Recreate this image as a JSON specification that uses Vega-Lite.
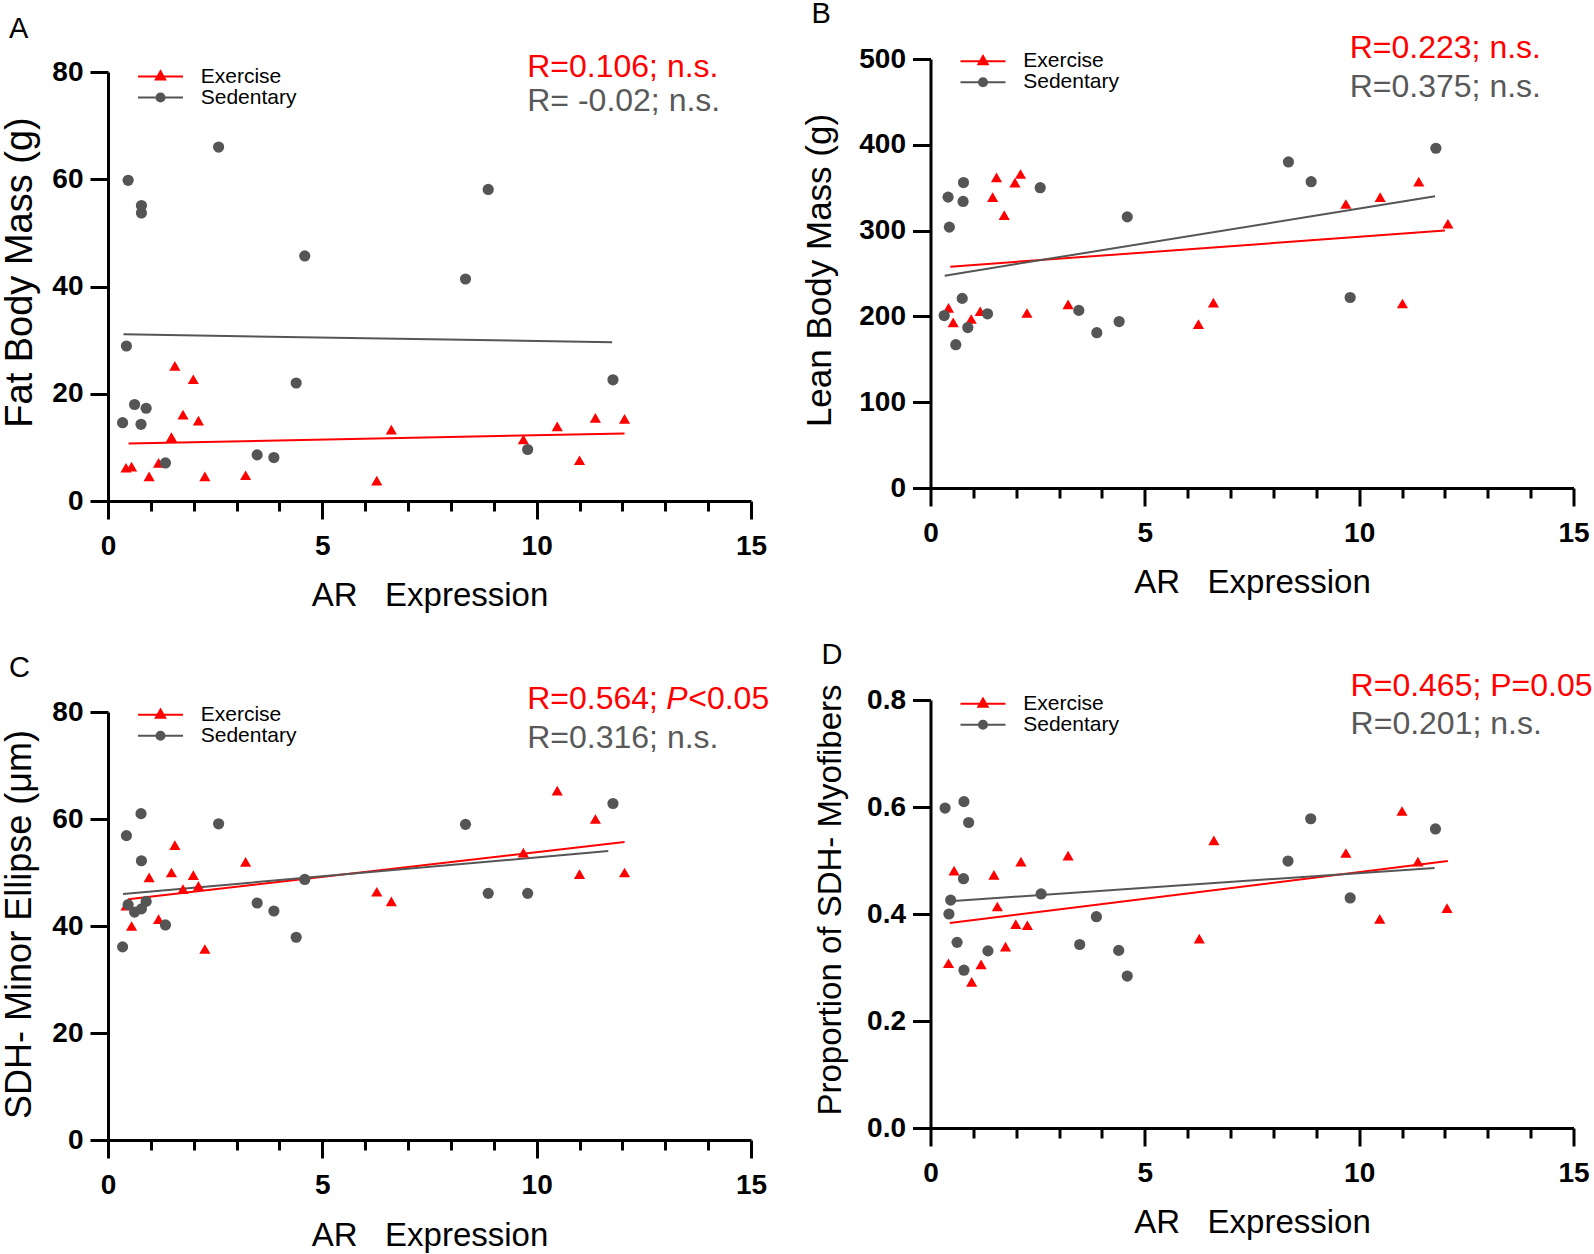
{
  "$schema": "https://vega.github.io/schema/vega-lite/v6.json",
  "background": "white",
  "padding": {"left": 0, "top": 0, "right": 4, "bottom": 4},
  "config": {
    "font": "Liberation Sans",
    "view": {"stroke": null},
    "axis": {"grid": false, "domainColor": "#000000", "domainWidth": 3, "tickColor": "#000000", "tickWidth": 3, "tickSize": 18, "labelFontSize": 28, "labelFontWeight": "bold", "labelColor": "#000000", "labelPadding": 7, "labelFlush": false, "labelOverlap": false, "titleFontSize": 35, "titleFontWeight": "normal", "titleColor": "#000000", "titleBaseline": "middle"},
    "axisX": {"labelPadding": 13, "titleFontSize": 33, "titleBaseline": "alphabetic"},
    "legend": {"title": null, "orient": "none", "symbolSize": 324, "symbolOpacity": 1, "symbolStrokeWidth": 2, "labelFontSize": 21, "labelColor": "#000000", "labelOffset": 29.7, "padding": 0, "rowPadding": -2.7},
    "title": {"fontSize": 29, "fontWeight": "normal", "color": "#000000", "anchor": "start", "frame": "group", "offset": 0, "baseline": "alphabetic"}
  },
  "datasets": {
    "A_pts": [
      {"group": "Exercise", "x": 1.56, "y": 25.2}, {"group": "Exercise", "x": 1.99, "y": 22.7}, {"group": "Exercise", "x": 1.75, "y": 16.1}, {"group": "Exercise", "x": 2.11, "y": 15.0}, {"group": "Exercise", "x": 1.48, "y": 11.9}, {"group": "Exercise", "x": 0.42, "y": 6.2}, {"group": "Exercise", "x": 0.55, "y": 6.4}, {"group": "Exercise", "x": 0.96, "y": 4.6}, {"group": "Exercise", "x": 1.18, "y": 7.1}, {"group": "Exercise", "x": 2.26, "y": 4.6}, {"group": "Exercise", "x": 3.21, "y": 4.8}, {"group": "Exercise", "x": 6.27, "y": 3.8}, {"group": "Exercise", "x": 6.61, "y": 13.3}, {"group": "Exercise", "x": 9.69, "y": 11.5}, {"group": "Exercise", "x": 10.48, "y": 13.9}, {"group": "Exercise", "x": 11.0, "y": 7.6}, {"group": "Exercise", "x": 11.37, "y": 15.5}, {"group": "Exercise", "x": 12.05, "y": 15.3},
      {"group": "Sedentary", "x": 0.47, "y": 59.8}, {"group": "Sedentary", "x": 2.58, "y": 66.0}, {"group": "Sedentary", "x": 0.78, "y": 55.1}, {"group": "Sedentary", "x": 0.78, "y": 53.7}, {"group": "Sedentary", "x": 8.87, "y": 58.1}, {"group": "Sedentary", "x": 4.59, "y": 45.7}, {"group": "Sedentary", "x": 8.34, "y": 41.4}, {"group": "Sedentary", "x": 0.43, "y": 28.9}, {"group": "Sedentary", "x": 4.39, "y": 22.0}, {"group": "Sedentary", "x": 11.78, "y": 22.6}, {"group": "Sedentary", "x": 0.62, "y": 18.0}, {"group": "Sedentary", "x": 0.89, "y": 17.3}, {"group": "Sedentary", "x": 0.34, "y": 14.6}, {"group": "Sedentary", "x": 0.77, "y": 14.3}, {"group": "Sedentary", "x": 1.34, "y": 7.1}, {"group": "Sedentary", "x": 3.48, "y": 8.6}, {"group": "Sedentary", "x": 3.87, "y": 8.1}, {"group": "Sedentary", "x": 9.79, "y": 9.6}
    ],
    "A_fit": [
      {"group": "Exercise", "x": 0.48, "y": 10.7}, {"group": "Exercise", "x": 12.05, "y": 12.6},
      {"group": "Sedentary", "x": 0.36, "y": 31.1}, {"group": "Sedentary", "x": 11.76, "y": 29.6}
    ],
    "B_pts": [
      {"group": "Exercise", "x": 1.54, "y": 362}, {"group": "Exercise", "x": 2.10, "y": 366}, {"group": "Exercise", "x": 1.97, "y": 356}, {"group": "Exercise", "x": 1.45, "y": 339}, {"group": "Exercise", "x": 1.72, "y": 318}, {"group": "Exercise", "x": 0.42, "y": 210}, {"group": "Exercise", "x": 0.53, "y": 193}, {"group": "Exercise", "x": 0.95, "y": 197}, {"group": "Exercise", "x": 1.16, "y": 206}, {"group": "Exercise", "x": 2.25, "y": 204}, {"group": "Exercise", "x": 3.21, "y": 214}, {"group": "Exercise", "x": 6.25, "y": 191}, {"group": "Exercise", "x": 6.60, "y": 216}, {"group": "Exercise", "x": 9.69, "y": 331}, {"group": "Exercise", "x": 10.49, "y": 339}, {"group": "Exercise", "x": 11.39, "y": 357}, {"group": "Exercise", "x": 11.01, "y": 215}, {"group": "Exercise", "x": 12.07, "y": 308},
      {"group": "Sedentary", "x": 11.79, "y": 396}, {"group": "Sedentary", "x": 8.35, "y": 380}, {"group": "Sedentary", "x": 8.88, "y": 357}, {"group": "Sedentary", "x": 0.77, "y": 356}, {"group": "Sedentary", "x": 0.41, "y": 339}, {"group": "Sedentary", "x": 0.76, "y": 334}, {"group": "Sedentary", "x": 2.56, "y": 350}, {"group": "Sedentary", "x": 0.44, "y": 304}, {"group": "Sedentary", "x": 4.59, "y": 316}, {"group": "Sedentary", "x": 0.74, "y": 221}, {"group": "Sedentary", "x": 0.32, "y": 201}, {"group": "Sedentary", "x": 1.33, "y": 203}, {"group": "Sedentary", "x": 0.87, "y": 187}, {"group": "Sedentary", "x": 0.59, "y": 167}, {"group": "Sedentary", "x": 3.46, "y": 207}, {"group": "Sedentary", "x": 3.88, "y": 181}, {"group": "Sedentary", "x": 4.40, "y": 194}, {"group": "Sedentary", "x": 9.79, "y": 222}
    ],
    "B_fit": [
      {"group": "Exercise", "x": 0.46, "y": 258}, {"group": "Exercise", "x": 12.0, "y": 300},
      {"group": "Sedentary", "x": 0.33, "y": 247.5}, {"group": "Sedentary", "x": 11.77, "y": 340}
    ],
    "C_pts": [
      {"group": "Exercise", "x": 10.48, "y": 65.3}, {"group": "Exercise", "x": 11.37, "y": 60.0}, {"group": "Exercise", "x": 9.69, "y": 53.7}, {"group": "Exercise", "x": 11.0, "y": 49.7}, {"group": "Exercise", "x": 12.05, "y": 50.0}, {"group": "Exercise", "x": 1.56, "y": 55.1}, {"group": "Exercise", "x": 1.48, "y": 50.0}, {"group": "Exercise", "x": 0.96, "y": 49.1}, {"group": "Exercise", "x": 1.99, "y": 49.5}, {"group": "Exercise", "x": 1.75, "y": 46.9}, {"group": "Exercise", "x": 2.11, "y": 47.5}, {"group": "Exercise", "x": 3.21, "y": 52.0}, {"group": "Exercise", "x": 0.42, "y": 43.8}, {"group": "Exercise", "x": 0.55, "y": 40.0}, {"group": "Exercise", "x": 1.18, "y": 41.3}, {"group": "Exercise", "x": 2.26, "y": 35.7}, {"group": "Exercise", "x": 6.27, "y": 46.4}, {"group": "Exercise", "x": 6.61, "y": 44.6},
      {"group": "Sedentary", "x": 0.34, "y": 36.1}, {"group": "Sedentary", "x": 0.43, "y": 56.9}, {"group": "Sedentary", "x": 0.77, "y": 61.0}, {"group": "Sedentary", "x": 0.78, "y": 52.2}, {"group": "Sedentary", "x": 0.47, "y": 44.0}, {"group": "Sedentary", "x": 0.62, "y": 42.6}, {"group": "Sedentary", "x": 0.78, "y": 43.2}, {"group": "Sedentary", "x": 0.89, "y": 44.6}, {"group": "Sedentary", "x": 1.34, "y": 40.2}, {"group": "Sedentary", "x": 2.58, "y": 59.1}, {"group": "Sedentary", "x": 3.48, "y": 44.3}, {"group": "Sedentary", "x": 3.87, "y": 42.8}, {"group": "Sedentary", "x": 4.39, "y": 37.9}, {"group": "Sedentary", "x": 4.59, "y": 48.7}, {"group": "Sedentary", "x": 8.34, "y": 59.0}, {"group": "Sedentary", "x": 8.87, "y": 46.1}, {"group": "Sedentary", "x": 9.79, "y": 46.1}, {"group": "Sedentary", "x": 11.78, "y": 62.9}
    ],
    "C_fit": [
      {"group": "Exercise", "x": 0.47, "y": 45.0}, {"group": "Exercise", "x": 12.05, "y": 55.7},
      {"group": "Sedentary", "x": 0.35, "y": 46.0}, {"group": "Sedentary", "x": 11.67, "y": 54.0}
    ],
    "D_pts": [
      {"group": "Exercise", "x": 11.0, "y": 0.5925}, {"group": "Exercise", "x": 6.61, "y": 0.5375}, {"group": "Exercise", "x": 9.69, "y": 0.514}, {"group": "Exercise", "x": 11.37, "y": 0.498}, {"group": "Exercise", "x": 12.05, "y": 0.411}, {"group": "Exercise", "x": 10.48, "y": 0.391}, {"group": "Exercise", "x": 6.27, "y": 0.354}, {"group": "Exercise", "x": 3.21, "y": 0.509}, {"group": "Exercise", "x": 2.11, "y": 0.498}, {"group": "Exercise", "x": 0.55, "y": 0.481}, {"group": "Exercise", "x": 1.48, "y": 0.473}, {"group": "Exercise", "x": 1.56, "y": 0.414}, {"group": "Exercise", "x": 1.99, "y": 0.381}, {"group": "Exercise", "x": 2.26, "y": 0.379}, {"group": "Exercise", "x": 1.75, "y": 0.339}, {"group": "Exercise", "x": 0.42, "y": 0.308}, {"group": "Exercise", "x": 1.18, "y": 0.306}, {"group": "Exercise", "x": 0.96, "y": 0.273},
      {"group": "Sedentary", "x": 0.34, "y": 0.598}, {"group": "Sedentary", "x": 0.78, "y": 0.610}, {"group": "Sedentary", "x": 0.89, "y": 0.571}, {"group": "Sedentary", "x": 0.77, "y": 0.466}, {"group": "Sedentary", "x": 0.47, "y": 0.426}, {"group": "Sedentary", "x": 0.43, "y": 0.400}, {"group": "Sedentary", "x": 0.62, "y": 0.347}, {"group": "Sedentary", "x": 0.78, "y": 0.295}, {"group": "Sedentary", "x": 1.34, "y": 0.331}, {"group": "Sedentary", "x": 2.58, "y": 0.4375}, {"group": "Sedentary", "x": 3.48, "y": 0.343}, {"group": "Sedentary", "x": 3.87, "y": 0.395}, {"group": "Sedentary", "x": 4.39, "y": 0.332}, {"group": "Sedentary", "x": 4.59, "y": 0.284}, {"group": "Sedentary", "x": 8.34, "y": 0.499}, {"group": "Sedentary", "x": 8.87, "y": 0.578}, {"group": "Sedentary", "x": 9.79, "y": 0.430}, {"group": "Sedentary", "x": 11.78, "y": 0.559}
    ],
    "D_fit": [
      {"group": "Exercise", "x": 0.45, "y": 0.383}, {"group": "Exercise", "x": 12.07, "y": 0.499},
      {"group": "Sedentary", "x": 0.45, "y": 0.424}, {"group": "Sedentary", "x": 11.76, "y": 0.486}
    ]
  },
  "columns": 2,
  "spacing": {"row": 199, "column": 179.5},
  "bounds": "flush",
  "resolve": {"scale": {"color": "independent", "shape": "independent", "fill": "independent", "stroke": "independent"}},
  "concat": [
    {
      "title": {"text": "A", "dx": -99, "dy": -3},
      "width": 643, "height": 442,
      "resolve": {"scale": {"color": "independent", "shape": "independent", "fill": "independent", "stroke": "independent"}, "axis": {"x": "independent"}},
      "layer": [
        {"data": {"name": "A_fit"}, "mark": {"type": "line", "strokeWidth": 2},
         "encoding": {
           "x": {"field": "x", "type": "quantitative", "scale": {"domain": [0, 15], "nice": false, "zero": false}, "axis": {"orient": "bottom", "values": [1,2,3,4,6,7,8,9,11,12,13,14], "labels": false, "domain": false, "tickSize": 10, "title": null}},
           "y": {"field": "y", "type": "quantitative", "scale": {"domain": [0, 80], "nice": false, "range": [442, 13]}},
           "color": {"field": "group", "type": "nominal", "scale": {"domain": ["Exercise", "Sedentary"], "range": ["#ff0000", "#555555"]}, "legend": null}
         }},
        {"data": {"name": "A_pts"}, "mark": {"type": "point", "filled": true, "opacity": 1, "size": 125},
         "encoding": {
           "x": {"field": "x", "type": "quantitative", "scale": {"domain": [0, 15], "nice": false, "zero": false}, "axis": {"orient": "bottom", "values": [0, 5, 10, 15], "title": "AR\u00a0\u00a0\u00a0Expression", "titleY": 104}},
           "y": {"field": "y", "type": "quantitative", "scale": {"domain": [0, 80], "nice": false, "range": [442, 13]}, "axis": {"values": [0, 20, 40, 60, 80], "title": "Fat Body Mass (g)", "titleX": -88, "titleY": 213, "titleFontSize": 38}},
           "color": {"field": "group", "type": "nominal", "scale": {"domain": ["Exercise", "Sedentary"], "range": ["#ff0000", "#555555"]}, "legend": null},
           "shape": {"field": "group", "type": "nominal", "scale": {"domain": ["Exercise", "Sedentary"], "range": ["triangle-up", "circle"]}, "legend": null}
         }},
        {"data": {"name": "A_fit"}, "mark": {"type": "point", "filled": true, "opacity": 0, "size": 324, "strokeWidth": 2},
         "encoding": {
           "x": {"field": "x", "type": "quantitative", "axis": null},
           "y": {"field": "y", "type": "quantitative"},
           "fill": {"field": "group", "type": "nominal", "scale": {"domain": ["Exercise", "Sedentary"], "range": ["#ff0000", "#555555"]}, "legend": {"legendX": 42, "legendY": 7}},
           "stroke": {"field": "group", "type": "nominal", "scale": {"domain": ["Exercise", "Sedentary"], "range": ["#ff0000", "#555555"]}, "legend": {"legendX": 42, "legendY": 7}},
           "shape": {"field": "group", "type": "nominal", "scale": {"domain": ["Exercise", "Sedentary"], "range": ["M-2.5,0H2.5M0,-0.58L0.52,0.33L-0.52,0.33Z", "M-2.5,0H2.5M0.45,0A0.45,0.45,0,1,1,-0.45,0A0.45,0.45,0,1,1,0.45,0Z"]}, "legend": {"legendX": 42, "legendY": 7}}
         }},
        {"data": {"values": [{}]}, "mark": {"type": "text", "text": "R=0.106; n.s.", "align": "left", "baseline": "alphabetic", "fontSize": 32, "color": "#ff0000"},
         "encoding": {"x": {"datum": 9.78, "type": "quantitative", "axis": null}, "y": {"datum": 79.1, "type": "quantitative"}}},
        {"data": {"values": [{}]}, "mark": {"type": "text", "text": "R= -0.02; n.s.", "align": "left", "baseline": "alphabetic", "fontSize": 32, "color": "#595959"},
         "encoding": {"x": {"datum": 9.78, "type": "quantitative", "axis": null}, "y": {"datum": 72.8, "type": "quantitative"}}}
      ]
    },
    {
      "title": {"text": "B", "dx": -119, "dy": 1},
      "width": 643, "height": 429,
      "resolve": {"scale": {"color": "independent", "shape": "independent", "fill": "independent", "stroke": "independent"}, "axis": {"x": "independent"}},
      "layer": [
        {"data": {"name": "B_fit"}, "mark": {"type": "line", "strokeWidth": 2},
         "encoding": {
           "x": {"field": "x", "type": "quantitative", "scale": {"domain": [0, 15], "nice": false, "zero": false}, "axis": {"orient": "bottom", "values": [1,2,3,4,6,7,8,9,11,12,13,14], "labels": false, "domain": false, "tickSize": 10, "title": null}},
           "y": {"field": "y", "type": "quantitative", "scale": {"domain": [0, 500], "nice": false}},
           "color": {"field": "group", "type": "nominal", "scale": {"domain": ["Exercise", "Sedentary"], "range": ["#ff0000", "#555555"]}, "legend": null}
         }},
        {"data": {"name": "B_pts"}, "mark": {"type": "point", "filled": true, "opacity": 1, "size": 125},
         "encoding": {
           "x": {"field": "x", "type": "quantitative", "scale": {"domain": [0, 15], "nice": false, "zero": false}, "axis": {"orient": "bottom", "values": [0, 5, 10, 15], "title": "AR\u00a0\u00a0\u00a0Expression", "titleY": 104}},
           "y": {"field": "y", "type": "quantitative", "scale": {"domain": [0, 500], "nice": false}, "axis": {"values": [0, 100, 200, 300, 400, 500], "title": "Lean Body Mass (g)", "titleX": -111, "titleY": 211}},
           "color": {"field": "group", "type": "nominal", "scale": {"domain": ["Exercise", "Sedentary"], "range": ["#ff0000", "#555555"]}, "legend": null},
           "shape": {"field": "group", "type": "nominal", "scale": {"domain": ["Exercise", "Sedentary"], "range": ["triangle-up", "circle"]}, "legend": null}
         }},
        {"data": {"name": "B_fit"}, "mark": {"type": "point", "filled": true, "opacity": 0, "size": 324, "strokeWidth": 2},
         "encoding": {
           "x": {"field": "x", "type": "quantitative", "axis": null},
           "y": {"field": "y", "type": "quantitative"},
           "fill": {"field": "group", "type": "nominal", "scale": {"domain": ["Exercise", "Sedentary"], "range": ["#ff0000", "#555555"]}, "legend": {"legendX": 42, "legendY": -8.3}},
           "stroke": {"field": "group", "type": "nominal", "scale": {"domain": ["Exercise", "Sedentary"], "range": ["#ff0000", "#555555"]}, "legend": {"legendX": 42, "legendY": -8.3}},
           "shape": {"field": "group", "type": "nominal", "scale": {"domain": ["Exercise", "Sedentary"], "range": ["M-2.5,0H2.5M0,-0.58L0.52,0.33L-0.52,0.33Z", "M-2.5,0H2.5M0.45,0A0.45,0.45,0,1,1,-0.45,0A0.45,0.45,0,1,1,0.45,0Z"]}, "legend": {"legendX": 42, "legendY": -8.3}}
         }},
        {"data": {"values": [{}]}, "mark": {"type": "text", "text": "R=0.223; n.s.", "align": "left", "baseline": "alphabetic", "fontSize": 32, "color": "#ff0000"},
         "encoding": {"x": {"datum": 9.78, "type": "quantitative", "axis": null}, "y": {"datum": 500.8, "type": "quantitative"}}},
        {"data": {"values": [{}]}, "mark": {"type": "text", "text": "R=0.375; n.s.", "align": "left", "baseline": "alphabetic", "fontSize": 32, "color": "#595959"},
         "encoding": {"x": {"datum": 9.78, "type": "quantitative", "axis": null}, "y": {"datum": 455.4, "type": "quantitative"}}}
      ]
    },
    {
      "title": {"text": "C", "dx": -99, "dy": 4.5},
      "width": 643, "height": 440,
      "resolve": {"scale": {"color": "independent", "shape": "independent", "fill": "independent", "stroke": "independent"}, "axis": {"x": "independent"}},
      "layer": [
        {"data": {"name": "C_fit"}, "mark": {"type": "line", "strokeWidth": 2},
         "encoding": {
           "x": {"field": "x", "type": "quantitative", "scale": {"domain": [0, 15], "nice": false, "zero": false}, "axis": {"orient": "bottom", "values": [1,2,3,4,6,7,8,9,11,12,13,14], "labels": false, "domain": false, "tickSize": 10, "title": null}},
           "y": {"field": "y", "type": "quantitative", "scale": {"domain": [0, 80], "nice": false, "range": [440, 12]}},
           "color": {"field": "group", "type": "nominal", "scale": {"domain": ["Exercise", "Sedentary"], "range": ["#ff0000", "#555555"]}, "legend": null}
         }},
        {"data": {"name": "C_pts"}, "mark": {"type": "point", "filled": true, "opacity": 1, "size": 125},
         "encoding": {
           "x": {"field": "x", "type": "quantitative", "scale": {"domain": [0, 15], "nice": false, "zero": false}, "axis": {"orient": "bottom", "values": [0, 5, 10, 15], "title": "AR\u00a0\u00a0\u00a0Expression", "titleY": 105}},
           "y": {"field": "y", "type": "quantitative", "scale": {"domain": [0, 80], "nice": false, "range": [440, 12]}, "axis": {"values": [0, 20, 40, 60, 80], "title": "SDH- Minor Ellipse (μm)", "titleX": -89, "titleY": 224, "titleFontSize": 36}},
           "color": {"field": "group", "type": "nominal", "scale": {"domain": ["Exercise", "Sedentary"], "range": ["#ff0000", "#555555"]}, "legend": null},
           "shape": {"field": "group", "type": "nominal", "scale": {"domain": ["Exercise", "Sedentary"], "range": ["triangle-up", "circle"]}, "legend": null}
         }},
        {"data": {"name": "C_fit"}, "mark": {"type": "point", "filled": true, "opacity": 0, "size": 324, "strokeWidth": 2},
         "encoding": {
           "x": {"field": "x", "type": "quantitative", "axis": null},
           "y": {"field": "y", "type": "quantitative"},
           "fill": {"field": "group", "type": "nominal", "scale": {"domain": ["Exercise", "Sedentary"], "range": ["#ff0000", "#555555"]}, "legend": {"legendX": 42, "legendY": 4.3}},
           "stroke": {"field": "group", "type": "nominal", "scale": {"domain": ["Exercise", "Sedentary"], "range": ["#ff0000", "#555555"]}, "legend": {"legendX": 42, "legendY": 4.3}},
           "shape": {"field": "group", "type": "nominal", "scale": {"domain": ["Exercise", "Sedentary"], "range": ["M-2.5,0H2.5M0,-0.58L0.52,0.33L-0.52,0.33Z", "M-2.5,0H2.5M0.45,0A0.45,0.45,0,1,1,-0.45,0A0.45,0.45,0,1,1,0.45,0Z"]}, "legend": {"legendX": 42, "legendY": 4.3}}
         }},
        {"data": {"values": [{}]}, "mark": {"type": "text", "text": "R=0.564; ", "align": "left", "baseline": "alphabetic", "fontSize": 32, "color": "#ff0000"},
         "encoding": {"x": {"datum": 9.78, "type": "quantitative", "axis": null}, "y": {"datum": 80.6, "type": "quantitative"}}},
        {"data": {"values": [{}]}, "mark": {"type": "text", "text": "P", "align": "left", "baseline": "alphabetic", "fontSize": 32, "fontStyle": "italic", "color": "#ff0000", "dx": 139},
         "encoding": {"x": {"datum": 9.78, "type": "quantitative", "axis": null}, "y": {"datum": 80.6, "type": "quantitative"}}},
        {"data": {"values": [{}]}, "mark": {"type": "text", "text": "<0.05", "align": "left", "baseline": "alphabetic", "fontSize": 32, "color": "#ff0000", "dx": 161},
         "encoding": {"x": {"datum": 9.78, "type": "quantitative", "axis": null}, "y": {"datum": 80.6, "type": "quantitative"}}},
        {"data": {"values": [{}]}, "mark": {"type": "text", "text": "R=0.316; n.s.", "align": "left", "baseline": "alphabetic", "fontSize": 32, "color": "#595959"},
         "encoding": {"x": {"datum": 9.78, "type": "quantitative", "axis": null}, "y": {"datum": 73.25, "type": "quantitative"}}}
      ]
    },
    {
      "title": {"text": "D", "dx": -109, "dy": 4},
      "width": 643, "height": 428,
      "resolve": {"scale": {"color": "independent", "shape": "independent", "fill": "independent", "stroke": "independent"}, "axis": {"x": "independent"}},
      "layer": [
        {"data": {"name": "D_fit"}, "mark": {"type": "line", "strokeWidth": 2},
         "encoding": {
           "x": {"field": "x", "type": "quantitative", "scale": {"domain": [0, 15], "nice": false, "zero": false}, "axis": {"orient": "bottom", "values": [1,2,3,4,6,7,8,9,11,12,13,14], "labels": false, "domain": false, "tickSize": 10, "title": null}},
           "y": {"field": "y", "type": "quantitative", "scale": {"domain": [0, 0.8], "nice": false}},
           "color": {"field": "group", "type": "nominal", "scale": {"domain": ["Exercise", "Sedentary"], "range": ["#ff0000", "#555555"]}, "legend": null}
         }},
        {"data": {"name": "D_pts"}, "mark": {"type": "point", "filled": true, "opacity": 1, "size": 125},
         "encoding": {
           "x": {"field": "x", "type": "quantitative", "scale": {"domain": [0, 15], "nice": false, "zero": false}, "axis": {"orient": "bottom", "values": [0, 5, 10, 15], "title": "AR\u00a0\u00a0\u00a0Expression", "titleY": 104}},
           "y": {"field": "y", "type": "quantitative", "scale": {"domain": [0, 0.8], "nice": false}, "axis": {"values": [0, 0.2, 0.4, 0.6, 0.8], "format": ".1f", "title": "Proportion of SDH- Myofibers", "titleX": -100, "titleY": 199.5, "titleFontSize": 33}},
           "color": {"field": "group", "type": "nominal", "scale": {"domain": ["Exercise", "Sedentary"], "range": ["#ff0000", "#555555"]}, "legend": null},
           "shape": {"field": "group", "type": "nominal", "scale": {"domain": ["Exercise", "Sedentary"], "range": ["triangle-up", "circle"]}, "legend": null}
         }},
        {"data": {"name": "D_fit"}, "mark": {"type": "point", "filled": true, "opacity": 0, "size": 324, "strokeWidth": 2},
         "encoding": {
           "x": {"field": "x", "type": "quantitative", "axis": null},
           "y": {"field": "y", "type": "quantitative"},
           "fill": {"field": "group", "type": "nominal", "scale": {"domain": ["Exercise", "Sedentary"], "range": ["#ff0000", "#555555"]}, "legend": {"legendX": 42, "legendY": -6.8}},
           "stroke": {"field": "group", "type": "nominal", "scale": {"domain": ["Exercise", "Sedentary"], "range": ["#ff0000", "#555555"]}, "legend": {"legendX": 42, "legendY": -6.8}},
           "shape": {"field": "group", "type": "nominal", "scale": {"domain": ["Exercise", "Sedentary"], "range": ["M-2.5,0H2.5M0,-0.58L0.52,0.33L-0.52,0.33Z", "M-2.5,0H2.5M0.45,0A0.45,0.45,0,1,1,-0.45,0A0.45,0.45,0,1,1,0.45,0Z"]}, "legend": {"legendX": 42, "legendY": -6.8}}
         }},
        {"data": {"values": [{}]}, "mark": {"type": "text", "text": "R=0.465; P=0.05", "align": "left", "baseline": "alphabetic", "fontSize": 32, "color": "#ff0000"},
         "encoding": {"x": {"datum": 9.8, "type": "quantitative", "axis": null}, "y": {"datum": 0.807, "type": "quantitative"}}},
        {"data": {"values": [{}]}, "mark": {"type": "text", "text": "R=0.201; n.s.", "align": "left", "baseline": "alphabetic", "fontSize": 32, "color": "#595959"},
         "encoding": {"x": {"datum": 9.8, "type": "quantitative", "axis": null}, "y": {"datum": 0.737, "type": "quantitative"}}}
      ]
    }
  ]
}
